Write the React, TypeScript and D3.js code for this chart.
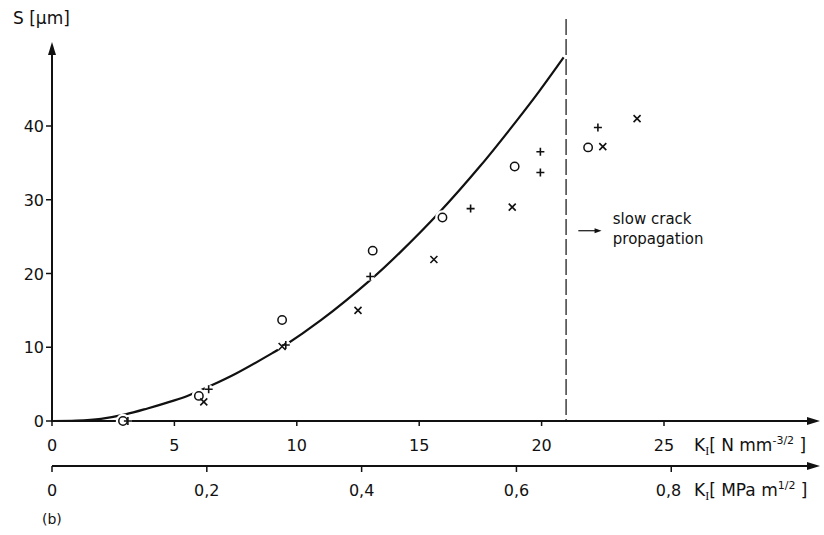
import { useRef, useEffect } from 'react';
import * as d3 from 'd3';

// K_I in N mm^-3/2, S in µm
const curveK = [0, 1, 2, 3, 3.9, 5, 5.6, 6.5, 7.5, 9, 9.4, 11, 13, 14.2, 15.8, 17.5, 19, 19.9, 20.9];
const curveS = [0, 0.05, 0.3, 0.9, 1.7, 2.8, 3.5, 4.8, 6.4, 9.2, 10.0, 13.7, 19.1, 22.8, 28.2, 34.6, 40.8, 44.7, 49.3];

const circleK = [2.9, 6.0, 9.4, 13.1, 15.95, 18.9, 21.9];
const circleS = [0, 3.4, 13.7, 23.1, 27.6, 34.5, 37.1];

const plusK = [3.1, 6.4, 9.55, 13.0, 17.1, 19.95, 19.95, 22.3];
const plusS = [0, 4.3, 10.3, 19.6, 28.8, 36.5, 33.7, 39.8];

const crossK = [6.2, 9.4, 12.5, 15.6, 18.8, 22.5, 23.9];
const crossS = [2.6, 10.1, 15.0, 21.9, 29.0, 37.2, 41.0];

const yTicks = [0, 10, 20, 30, 40];
const xTicks = [0, 5, 10, 15, 20, 25];
const x2Ticks = [0, 0.2, 0.4, 0.6, 0.8];
const CONV = 31.62; // N mm^-3/2 per MPa m^1/2
const K_SLOW = 21;

const FONT = '"DejaVu Sans", sans-serif';

export default function App() {
  const svgRef = useRef<SVGSVGElement | null>(null);

  useEffect(() => {
    const svg = d3.select(svgRef.current);
    svg.selectAll('*').remove();

    const x = d3.scaleLinear().domain([0, 25]).range([52, 664]);
    const x2 = d3.scaleLinear().domain([0, 25 / CONV]).range([52, 664]);
    const y = d3.scaleLinear().domain([0, 40]).range([421, 126]);
    const y2 = 466;
    const xEnd = 820;
    const yTop = 42;

    const de = d3.formatLocale({ decimal: ',', thousands: '.', grouping: [3], currency: ['', ''] });
    const f2 = (d: number) => (d === 0 ? '0' : de.format('.1f')(d));

    const g = svg.append('g').style('font-family', FONT).attr('fill', '#111');

    // axes lines
    g.append('line').attr('x1', x(0)).attr('x2', xEnd - 8).attr('y1', y(0)).attr('y2', y(0))
      .attr('stroke', '#111').attr('stroke-width', 2);
    g.append('path').attr('d', `M${xEnd},${y(0)} L${xEnd - 13},${y(0) - 4} L${xEnd - 13},${y(0) + 4} Z`).attr('fill', '#111');

    g.append('line').attr('x1', x(0)).attr('x2', x(0)).attr('y1', y(0) + 1).attr('y2', yTop + 8)
      .attr('stroke', '#111').attr('stroke-width', 2);
    g.append('path').attr('d', `M${x(0)},${yTop} L${x(0) - 4},${yTop + 13} L${x(0) + 4},${yTop + 13} Z`).attr('fill', '#111');

    g.append('line').attr('x1', x(0)).attr('x2', xEnd - 8).attr('y1', y2).attr('y2', y2)
      .attr('stroke', '#111').attr('stroke-width', 2);
    g.append('path').attr('d', `M${xEnd},${y2} L${xEnd - 13},${y2 - 4} L${xEnd - 13},${y2 + 4} Z`).attr('fill', '#111');

    // y ticks
    yTicks.forEach(t => {
      g.append('line').attr('x1', x(0) - 6).attr('x2', x(0)).attr('y1', y(t)).attr('y2', y(t))
        .attr('stroke', '#111').attr('stroke-width', 1.5);
      g.append('text').attr('x', x(0) - 8).attr('y', y(t) + 6).attr('text-anchor', 'end')
        .style('font-size', '16px').text(t);
    });

    // x ticks (N mm^-3/2)
    xTicks.forEach(t => {
      g.append('line').attr('x1', x(t)).attr('x2', x(t)).attr('y1', y(0)).attr('y2', y(0) + 5)
        .attr('stroke', '#111').attr('stroke-width', 1.5);
      g.append('text').attr('x', x(t)).attr('y', y(0) + 30).attr('text-anchor', 'middle')
        .style('font-size', '16px').text(t);
    });

    // x2 ticks (MPa m^1/2)
    x2Ticks.forEach(t => {
      g.append('line').attr('x1', x2(t)).attr('x2', x2(t)).attr('y1', y2).attr('y2', y2 + 6)
        .attr('stroke', '#111').attr('stroke-width', 1.5);
      g.append('text').attr('x', x2(t)).attr('y', y2 + 30).attr('text-anchor', t === 0.8 ? 'end' : 'middle')
        .attr('dx', t === 0.8 ? 10 : 0)
        .style('font-size', '16px').text(f2(t));
    });

    // axis titles
    g.append('text').attr('x', 13).attr('y', 24).style('font-size', '17px').text('S [µm]');

    const k1 = g.append('text').attr('x', 694).attr('y', y(0) + 30).style('font-size', '17px');
    k1.append('tspan').text('K');
    k1.append('tspan').attr('dy', 4).style('font-size', '12px').style('font-family', '"Liberation Serif", serif').text('I');
    k1.append('tspan').attr('dy', -4).text('[ N  mm');
    k1.append('tspan').attr('dy', -7).style('font-size', '11px').text('-3/2');
    k1.append('tspan').attr('dy', 7).text(' ]');

    const k2 = g.append('text').attr('x', 694).attr('y', y2 + 30).style('font-size', '17px');
    k2.append('tspan').text('K');
    k2.append('tspan').attr('dy', 4).style('font-size', '12px').style('font-family', '"Liberation Serif", serif').text('I');
    k2.append('tspan').attr('dy', -4).text('[ MPa m');
    k2.append('tspan').attr('dy', -7).style('font-size', '11px').text('1/2');
    k2.append('tspan').attr('dy', 7).text(' ]');

    g.append('text').attr('x', 42).attr('y', 524).style('font-size', '14px').text('(b)');

    // slow crack boundary
    g.append('line').attr('x1', x(K_SLOW)).attr('x2', x(K_SLOW)).attr('y1', y(54.5)).attr('y2', y(0))
      .attr('stroke', '#111').attr('stroke-width', 1.2).attr('stroke-dasharray', '16,4');

    g.append('line').attr('x1', x(21.5)).attr('x2', x(22.2)).attr('y1', y(25.8)).attr('y2', y(25.8))
      .attr('stroke', '#111').attr('stroke-width', 1.2);
    g.append('path').attr('d', `M${x(22.45)},${y(25.8)} l-7,-2.5 l0,5 Z`).attr('fill', '#111');
    g.append('text').attr('x', x(22.5) + 10).attr('y', y(26.7)).style('font-size', '15px').text('slow  crack');
    g.append('text').attr('x', x(22.5) + 10).attr('y', y(24)).style('font-size', '15px').text('propagation');

    // fitted curve
    const line = d3.line<number>().x((_, i) => x(curveK[i])).y(d => y(d)).curve(d3.curveCatmullRom);
    g.append('path').attr('d', line(curveS)).attr('fill', 'none').attr('stroke', '#111').attr('stroke-width', 2.2);

    // markers with white halo so they break the curve like the print
    const drawCircles = (stroke: string, w: number) =>
      circleK.forEach((k, i) => {
        g.append('circle').attr('cx', x(k)).attr('cy', y(circleS[i])).attr('r', 4.2)
          .attr('fill', stroke === '#fff' ? '#fff' : 'none').attr('stroke', stroke).attr('stroke-width', w);
      });
    const drawPlus = (stroke: string, w: number) =>
      plusK.forEach((k, i) => {
        const cx = x(k), cy = y(plusS[i]);
        g.append('path').attr('d', `M${cx - 4},${cy} H${cx + 4} M${cx},${cy - 4} V${cy + 4}`)
          .attr('stroke', stroke).attr('stroke-width', w).attr('fill', 'none');
      });
    const drawCross = (stroke: string, w: number) =>
      crossK.forEach((k, i) => {
        const cx = x(k), cy = y(crossS[i]);
        g.append('path').attr('d', `M${cx - 3.5},${cy - 3.5} L${cx + 3.5},${cy + 3.5} M${cx + 3.5},${cy - 3.5} L${cx - 3.5},${cy + 3.5}`)
          .attr('stroke', stroke).attr('stroke-width', w).attr('fill', 'none');
      });

    drawCircles('#fff', 6);
    drawPlus('#fff', 6);
    drawCross('#fff', 6);
    drawCircles('#111', 1.5);
    drawPlus('#111', 1.6);
    drawCross('#111', 1.6);
  }, []);

  return (
    <div style={{ position: 'fixed', left: 0, top: 0, background: '#fff' }}>
      <svg ref={svgRef} width={824} height={535} style={{ display: 'block' }} />
    </div>
  );
}
